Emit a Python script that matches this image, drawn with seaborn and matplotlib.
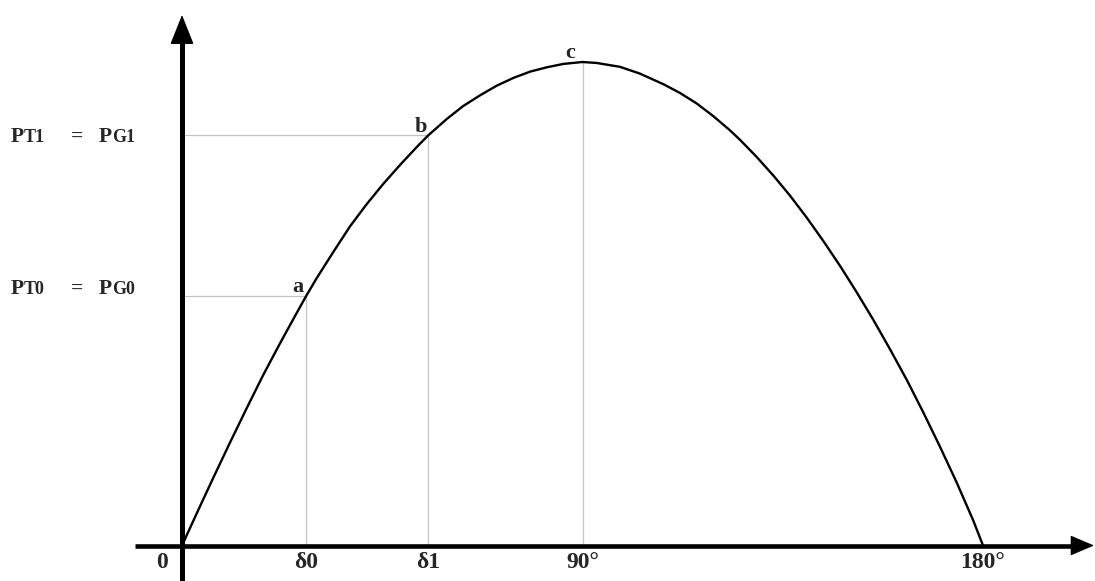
import matplotlib
matplotlib.use("Agg")
import matplotlib.pyplot as plt
import seaborn as sns
import pandas as pd

# ---- data (delta in degrees, power normalised to Pmax) ----
delta_deg = [0, 4.04, 7.03, 10.79, 14.54, 18.27, 22.02, 25.78, 27.9, 30.27, 34.0, 37.75,
             41.5, 45.24, 48.99, 52.74, 55.3, 59.48, 63.2, 66.97, 70.72, 74.45, 78.2, 81.96,
             85.69, 90.0, 93.19, 98.43, 102.9, 108.2, 111.9, 115.7, 119.4, 123.1, 125.4,
             129.1, 132.9, 136.6, 140.4, 144.1, 147.9, 151.6, 155.4, 159.1, 162.9, 166.6,
             170.3, 174.1, 177.8, 180.0]
power = [0, 0.081, 0.140, 0.213, 0.284, 0.353, 0.418, 0.481, 0.516, 0.553, 0.607, 0.660,
         0.706, 0.748, 0.787, 0.824, 0.848, 0.882, 0.909, 0.931, 0.951, 0.967, 0.980, 0.989,
         0.996, 1.000, 0.998, 0.990, 0.976, 0.954, 0.936, 0.914, 0.888, 0.859, 0.839,
         0.804, 0.765, 0.724, 0.678, 0.630, 0.578, 0.524, 0.466, 0.406, 0.342, 0.275,
         0.205, 0.130, 0.052, 0]

point_names = ["a", "b", "c"]
point_delta = [27.9, 55.3, 90.0]
point_power = [0.516, 0.848, 1.0]

tick_pos = [0, 27.9, 55.3, 90, 180]
tick_labels = ["0", "δ0", "δ1", "90°", "180°"]

level_pieces = [["P", "T0", "=", "P", "G0"], ["P", "T1", "=", "P", "G1"]]

# ---- figure geometry ----
W, H = 1095, 581
X0, XSC = 182.0, 801.0 / 180.0     # pixel of delta=0, px per degree
Y0, YSC = 545.5, 483.5             # pixel of P=0, px per unit P


def dx(px):
    return (px - X0) / XSC


def dy(py):
    return (Y0 - py) / YSC


sns.set_style("white")
plt.rcParams["font.family"] = ["Liberation Serif", "DejaVu Serif"]
plt.rcParams["font.weight"] = "bold"

fig = plt.figure(figsize=(W / 100, H / 100), dpi=100)
ax = fig.add_axes([0, 0, 1, 1])
ax.set_xlim(dx(0), dx(W))
ax.set_ylim(dy(H), dy(0))
ax.axis("off")

grey = "#c4c4c4"
# guide lines
for i, (d, p) in enumerate(zip(point_delta, point_power)):
    ax.plot([d, d], [0, p], color=grey, lw=0.9, zorder=1)
    if i < 2:
        ax.plot([0, d], [p, p], color=grey, lw=0.9, zorder=1)

# curve
df = pd.DataFrame({"delta": delta_deg, "P": power})
sns.lineplot(data=df, x="delta", y="P", ax=ax, color="black", lw=1.7,
             sort=False, estimator=None, zorder=3)

# axes with arrows
ax.plot([dx(135), dx(1080)], [0, 0], color="black", lw=3.3, solid_capstyle="butt", zorder=4)
ax.plot([0, 0], [dy(H + 2), dy(40)], color="black", lw=3.6, solid_capstyle="butt", zorder=4)
ax.annotate("", xy=(dx(1094), 0), xytext=(dx(1074), 0),
            arrowprops=dict(arrowstyle="-|>,head_length=0.75,head_width=0.32",
                            mutation_scale=20, color="black", lw=1, shrinkA=0, shrinkB=0),
            zorder=5)
ax.annotate("", xy=(0, dy(15)), xytext=(0, dy(43)),
            arrowprops=dict(arrowstyle="-|>,head_length=0.95,head_width=0.38",
                            mutation_scale=20, color="black", lw=1, shrinkA=0, shrinkB=0),
            zorder=5)

fs_tick = 17
fs_letter = 16
fs_big = 15.5
fs_small = 13
# tick labels
for pos, lab in zip(tick_pos, tick_labels):
    x = dx(162) if lab == "0" else pos
    ax.text(x, dy(563), lab, ha="center", va="center", fontsize=fs_tick, fontweight="bold")

# point letters
offsets = [(-8, 9), (-7, 8), (-12, 9)]
for n, d, p, (ox, oy) in zip(point_names, point_delta, point_power, offsets):
    ax.annotate(n, xy=(d, p), xytext=(ox * 0.72, oy * 0.72), textcoords="offset points",
                ha="center", va="center", fontsize=fs_letter, fontweight="bold")

# level labels (P with small-cap subscripts)
piece_x = [11, 24, 71, 99, 112]
piece_fs = [fs_big, fs_small, fs_big, fs_big, fs_small]
label_y = [287, 135]
for pieces, ly in zip(level_pieces, label_y):
    for t, px, f in zip(pieces, piece_x, piece_fs):
        ax.text(dx(px), dy(ly + 7), t, ha="left", va="baseline", fontsize=f, fontweight="bold")

fig.savefig("out.png", dpi=100)
